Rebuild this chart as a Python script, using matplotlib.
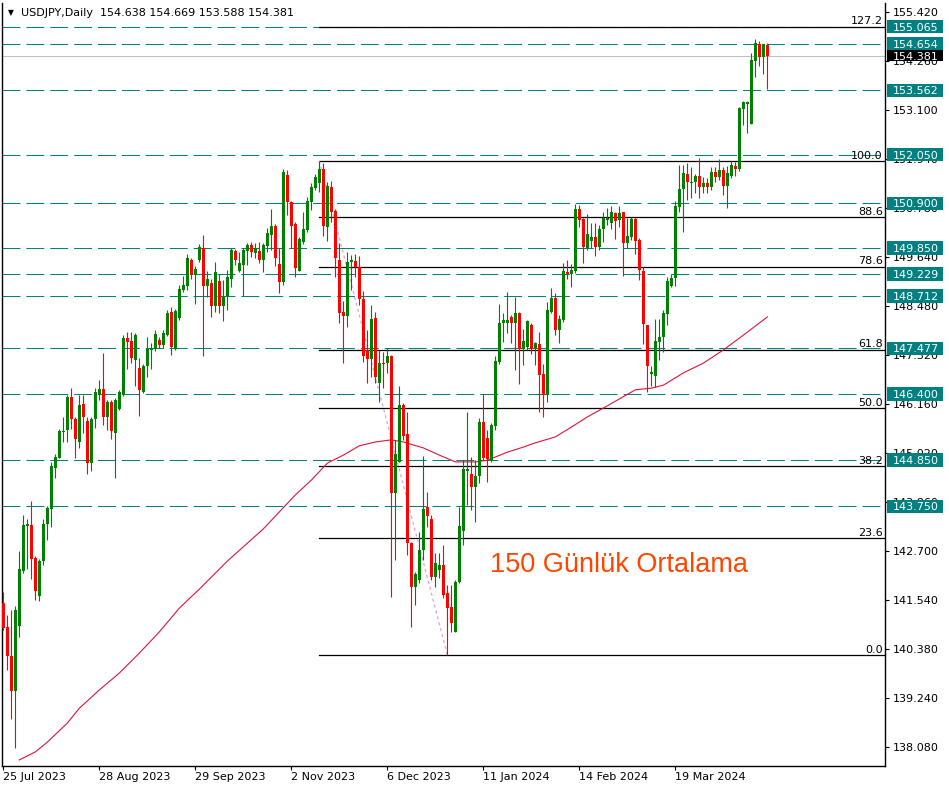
import numpy as np
import matplotlib.pyplot as plt
from matplotlib.patches import Rectangle
from matplotlib.transforms import blended_transform_factory

plt.rcParams['font.family'] = ['DejaVu Sans']
plt.rcParams['lines.scale_dashes'] = False

# daily OHLC, bar 0 = 25 Jul 2023
opens = [141.47, 140.91, 140.22, 139.40, 140.93, 142.23, 143.29, 143.31, 142.53, 141.64,
         142.46, 143.34, 143.69, 144.66, 144.89, 145.51, 145.55, 146.33, 145.81, 145.27,
         146.17, 145.76, 144.77, 145.81, 146.38, 146.52, 145.86, 146.21, 145.48, 146.05,
         146.38, 147.72, 147.65, 147.20, 147.01, 146.45, 147.06, 147.44, 147.46, 147.68,
         147.56, 147.79, 148.34, 147.46, 148.19, 148.85, 148.95, 149.56, 149.21, 149.56,
         149.85, 148.95, 149.02, 148.48, 149.07, 148.48, 148.71, 149.11, 149.77, 149.30,
         149.44, 149.77, 149.92, 149.73, 149.77, 149.56, 149.89, 150.15, 150.36, 149.47,
         149.04, 151.57, 150.93, 150.41, 149.30, 149.99, 150.27, 150.93, 151.26, 151.38,
         151.71, 150.34, 151.28, 150.72, 149.56, 148.34, 148.24, 149.51, 149.54, 149.40,
         148.64, 147.44, 147.23, 148.19, 146.66, 147.13, 147.13, 147.30, 144.07, 144.80,
         146.14, 145.46, 142.89, 141.85, 142.02, 142.72, 143.74, 143.45, 142.09, 142.25,
         142.37, 141.71, 141.38, 140.79, 141.97, 143.17, 144.59, 144.52, 144.21, 144.47,
         145.74, 145.36, 144.85, 145.65, 147.16, 148.08, 148.08, 148.22, 148.08, 148.31,
         147.46, 147.51, 148.03, 147.46, 147.58, 146.87, 146.38, 148.34, 148.67, 147.91,
         148.15, 149.28, 149.23, 149.30, 150.76, 150.53, 149.85, 150.01, 150.11, 149.87,
         150.29, 150.51, 150.43, 150.67, 150.51, 150.69, 149.96, 150.11, 150.53, 150.03,
         149.30, 148.03, 146.87, 146.83, 147.63, 147.75, 148.29, 148.95, 149.14, 150.81,
         151.24, 151.59, 151.38, 151.40, 151.54, 151.28, 151.38, 151.28, 151.64, 151.52,
         151.68, 151.31, 151.54, 151.78, 151.71, 153.12, 153.24, 152.77, 154.26, 154.66,
         154.35, 154.638]
highs = [141.73, 141.19, 141.31, 141.40, 142.70, 143.55, 143.45, 143.88, 142.58, 142.51,
         143.45, 143.76, 144.80, 144.99, 145.58, 145.86, 146.38, 146.54, 145.86, 146.38,
         146.38, 145.86, 145.86, 146.54, 146.73, 147.37, 146.26, 146.26, 146.31, 146.50,
         147.79, 147.86, 147.86, 147.84, 147.25, 147.11, 147.75, 147.60, 147.91, 147.75,
         147.91, 148.38, 148.45, 148.41, 148.97, 149.18, 149.70, 149.61, 149.42, 149.94,
         150.15, 149.30, 149.11, 149.51, 149.23, 149.09, 149.33, 149.85, 149.82, 149.75,
         149.85, 149.96, 149.99, 149.96, 149.99, 149.96, 150.32, 150.76, 150.41, 149.85,
         151.71, 151.68, 150.95, 150.46, 150.11, 150.69, 151.05, 151.38, 151.59, 151.90,
         151.85, 151.40, 151.43, 150.76, 149.96, 148.59, 149.75, 149.68, 149.70, 149.66,
         148.83, 147.91, 148.50, 148.34, 147.44, 147.39, 147.49, 147.32, 145.32, 146.59,
         146.19, 145.98, 142.91, 142.20, 143.15, 144.94, 144.09, 143.55, 142.65, 142.65,
         142.84, 141.90, 141.90, 142.02, 143.74, 144.85, 145.98, 144.92, 144.85, 145.84,
         146.40, 145.55, 145.72, 147.30, 148.52, 148.31, 148.81, 148.26, 148.69, 148.34,
         147.93, 148.15, 148.08, 147.63, 147.86, 147.11, 148.57, 148.90, 148.78, 148.26,
         149.49, 149.56, 149.47, 150.88, 150.86, 150.55, 150.65, 150.43, 150.43, 150.39,
         150.69, 150.79, 150.84, 150.69, 150.84, 150.69, 150.55, 150.58, 150.58, 150.08,
         149.40, 148.03, 147.06, 148.17, 148.17, 148.38, 149.16, 149.23, 150.95, 151.80,
         151.80, 151.85, 151.76, 151.59, 151.97, 151.52, 151.50, 151.76, 151.76, 151.94,
         151.76, 151.78, 151.90, 151.87, 153.17, 153.31, 153.31, 154.44, 154.77, 154.73,
         154.66, 154.669]
lows = [140.84, 139.89, 138.74, 138.05, 140.67, 142.18, 142.27, 142.04, 141.54, 141.52,
        142.37, 142.96, 143.26, 144.42, 144.89, 145.27, 145.27, 145.58, 144.89, 145.13,
        145.48, 144.52, 144.59, 145.60, 146.26, 145.67, 145.55, 145.34, 144.42, 146.02,
        146.35, 146.99, 147.13, 146.59, 145.88, 146.43, 146.80, 146.99, 147.42, 147.49,
        147.49, 147.77, 147.32, 147.44, 148.15, 148.81, 148.85, 149.11, 148.52, 149.52,
        147.30, 148.69, 148.22, 148.33, 148.31, 148.12, 148.38, 148.92, 149.44, 149.28,
        148.71, 149.44, 149.63, 149.61, 149.49, 149.28, 149.75, 149.80, 149.42, 148.78,
        148.97, 150.62, 149.85, 149.16, 149.30, 149.94, 150.22, 150.74, 151.21, 151.17,
        150.13, 150.01, 150.46, 149.16, 148.08, 147.13, 147.98, 148.85, 149.16, 148.50,
        147.16, 146.66, 146.80, 146.66, 146.21, 146.54, 146.90, 141.61, 142.49, 144.80,
        145.32, 142.60, 140.91, 141.42, 141.94, 142.49, 143.26, 142.02, 141.85, 142.06,
        141.59, 140.25, 140.79, 140.79, 141.94, 142.84, 143.78, 143.67, 143.38, 144.30,
        144.85, 144.33, 144.80, 145.55, 147.11, 147.63, 147.84, 147.60, 146.97, 146.64,
        147.08, 147.44, 147.34, 147.08, 145.98, 145.86, 146.21, 148.31, 147.79, 147.60,
        148.10, 149.11, 148.92, 149.26, 150.34, 149.49, 149.80, 149.85, 149.66, 149.80,
        149.99, 150.39, 150.29, 150.06, 150.34, 149.18, 149.85, 150.03, 149.70, 149.09,
        147.58, 146.45, 146.59, 146.57, 147.20, 147.39, 148.03, 148.92, 148.95, 150.69,
        150.22, 150.98, 151.02, 151.14, 151.02, 151.14, 151.14, 151.21, 151.40, 151.45,
        151.09, 150.79, 151.50, 151.54, 151.66, 152.75, 152.56, 152.77, 153.88, 154.14,
        153.95, 153.588]
closes = [140.88, 140.22, 139.40, 141.31, 142.27, 143.31, 143.34, 142.51, 141.76, 142.46,
          143.34, 143.71, 144.70, 144.92, 145.53, 145.53, 146.33, 145.81, 145.34, 146.14,
          145.86, 144.77, 145.81, 146.45, 146.52, 145.86, 146.21, 145.53, 146.26, 146.45,
          147.72, 147.63, 147.25, 147.79, 146.50, 147.06, 147.46, 147.49, 147.82, 147.56,
          147.84, 148.31, 147.51, 148.36, 148.88, 148.97, 149.61, 149.21, 149.35, 149.87,
          148.95, 149.11, 148.48, 149.28, 148.48, 148.71, 149.16, 149.80, 149.56, 149.49,
          149.80, 149.92, 149.75, 149.85, 149.56, 149.92, 150.20, 150.36, 149.61, 149.04,
          151.64, 150.93, 150.36, 149.37, 150.06, 150.29, 150.95, 151.28, 151.52, 151.71,
          150.36, 151.31, 150.69, 149.61, 148.31, 148.24, 149.51, 149.56, 149.40, 148.64,
          147.30, 147.23, 148.17, 146.80, 147.13, 147.11, 147.30, 144.07, 144.99, 146.14,
          145.41, 142.89, 141.85, 142.16, 142.72, 143.69, 143.52, 142.09, 142.42, 142.37,
          141.66, 141.35, 141.00, 141.97, 143.29, 144.63, 144.63, 144.21, 144.47, 145.74,
          144.89, 144.87, 145.67, 147.18, 148.08, 148.15, 148.15, 148.08, 148.31, 147.46,
          147.65, 148.12, 147.46, 147.60, 146.85, 146.38, 148.38, 148.67, 147.91, 148.17,
          149.30, 149.23, 149.33, 150.76, 150.51, 149.87, 150.18, 150.11, 149.87, 150.29,
          150.55, 150.55, 150.69, 150.48, 150.67, 149.96, 150.13, 150.53, 150.01, 149.33,
          148.05, 147.06, 146.92, 147.65, 147.75, 148.31, 149.07, 149.14, 150.84, 151.24,
          151.61, 151.40, 151.40, 151.54, 151.28, 151.38, 151.28, 151.64, 151.52, 151.68,
          151.31, 151.61, 151.80, 151.71, 153.15, 153.29, 153.29, 154.28, 154.68, 154.35,
          154.66, 154.381]

date_bars = [0, 24, 48, 72, 96, 120, 144, 168]
date_labels = ['25 Jul 2023', '28 Aug 2023', '29 Sep 2023', '2 Nov 2023',
               '6 Dec 2023', '11 Jan 2024', '14 Feb 2024', '19 Mar 2024']

ma_bars = [4, 8, 11, 16, 19, 24, 29, 34, 39, 44, 49, 56, 65, 73, 77, 81, 85, 89, 93, 97,
           100, 105, 109, 113, 118, 121, 126, 130, 133, 138, 142, 146, 150, 158, 162, 165,
           170, 175, 180, 185, 191]
ma_vals = [137.77, 137.96, 138.19, 138.64, 138.99, 139.42, 139.82, 140.29, 140.79, 141.35,
           141.80, 142.46, 143.22, 144.02, 144.37, 144.77, 144.96, 145.18, 145.27, 145.32,
           145.27, 145.13, 144.96, 144.80, 144.80, 144.84, 145.03, 145.15, 145.25, 145.39,
           145.62, 145.86, 146.07, 146.50, 146.54, 146.61, 146.90, 147.13, 147.44, 147.79,
           148.22]

levels = [155.065, 154.654, 153.562, 152.050, 150.900, 149.850, 149.229, 148.712,
          147.477, 146.400, 144.850, 143.750]
bid = 154.381

fib_bar_high = 79
fib_bar_low = 111
fib_high = 151.90
fib_low = 140.25
fib_levels = [0.0, 23.6, 38.2, 50.0, 61.8, 78.6, 88.6, 100.0, 127.2]

price_ticks = [155.420, 154.260, 153.100, 151.940, 150.780, 149.640, 148.480, 147.320,
               146.160, 145.020, 143.860, 142.700, 141.540, 140.380, 139.240, 138.080]

W, H = 949, 790
ppu = 42.4  # pixels per price unit
fig = plt.figure(figsize=(W / 100, H / 100), dpi=100)
ax = fig.add_axes([2 / W, 24 / H, 883 / W, 763 / H])
ax.set_xlim(-0.325, 220.4)
ax.set_ylim(155.694 - 766 / ppu, 155.694 - 3 / ppu)

trans = blended_transform_factory(ax.transAxes, ax.transData)

# horizontal levels
for v in levels:
    ax.axhline(v, color='#008080', lw=0.75, dashes=(12.9, 4.3), zorder=1)
ax.axhline(bid, color='#c0c0c0', lw=0.75, zorder=1)

# fibo
for lv in fib_levels:
    p = fib_low + (fib_high - fib_low) * lv / 100
    ax.plot([fib_bar_high, 230], [p, p], color='black', lw=0.9, zorder=1)
    ax.annotate('%.1f' % lv, xy=(1.0, p), xycoords=trans, xytext=(-1.5, 1.6),
                textcoords='offset points', ha='right', va='baseline', fontsize=8)
ax.plot([fib_bar_high, fib_bar_low], [fib_high, fib_low], color='#dda0dd', lw=0.9,
        dashes=(2.2, 2.2), zorder=1)

# moving average
ax.plot(ma_bars, ma_vals, color='#dc143c', lw=0.8, zorder=2)

# candles
o = np.array(opens)
c = np.array(closes)
x = np.arange(len(c))
col = np.where(c >= o, '#008000', '#ff0000')
ax.vlines(x, lows, highs, colors=col, lw=0.8, zorder=3)
ax.bar(x, np.maximum(np.abs(c - o), 0.025), bottom=np.minimum(o, c), width=0.75,
       color=col, linewidth=0, zorder=3)

ax.text(121.7, 142.20, '150 Günlük Ortalama', color='#ff4500', fontsize=19.5,
        family='Liberation Sans', va='baseline', ha='left')

# axes
for s in ['left', 'bottom', 'right']:
    ax.spines[s].set_linewidth(1.0)
ax.spines['top'].set_visible(False)
ax.yaxis.tick_right()
ax.set_yticks(price_ticks)
ax.set_yticklabels(['%.3f' % v for v in price_ticks])
ax.tick_params(axis='y', direction='out', length=3, width=0.8, pad=2.5, labelsize=8)
ax.set_xticks(date_bars)
ax.set_xticklabels(date_labels)
for lbl in ax.get_xticklabels():
    lbl.set_horizontalalignment('left')
ax.tick_params(axis='x', direction='out', length=3, width=0.8, pad=1.5, labelsize=8)

# price label boxes
def price_box(v, fc, h):
    ax.add_patch(Rectangle((885 / 883, v - h / 2 / ppu), 56 / 883, h / ppu, transform=trans,
                           fc=fc, ec='none', clip_on=False, zorder=5))
    ax.text(891 / 883, v, '%.3f' % v, transform=trans, color='white', fontsize=8,
            va='center_baseline', ha='left', clip_on=False, zorder=6)

for v in levels:
    price_box(v, '#008080', 13.5)
price_box(bid, 'black', 11)

fig.text(8 / W, 1 - 12.5 / H, '▼', fontsize=5.5, va='center')
fig.text(21 / W, 1 - 12.5 / H, 'USDJPY,Daily  154.638 154.669 153.588 154.381',
         fontsize=8, va='center')

fig.savefig('out.png', dpi=100)
